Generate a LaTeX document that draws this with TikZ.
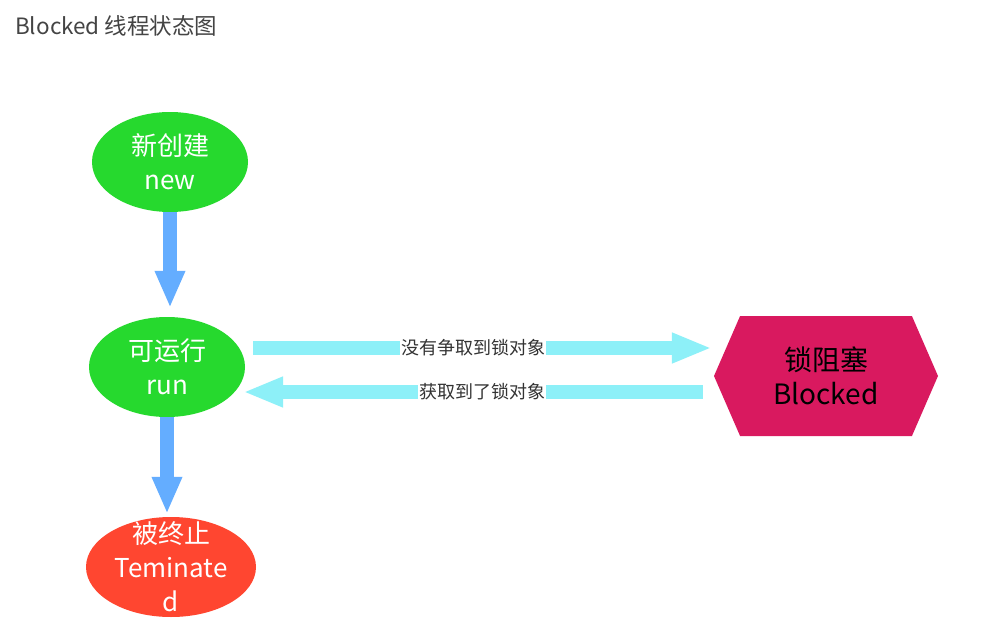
\documentclass[tikz,border=0pt]{standalone}
\usepackage{fontspec}
\setmainfont{Noto Sans CJK SC}
\usetikzlibrary{arrows.meta,shapes.geometric,shapes.symbols,calc}
\definecolor{stgreen}{HTML}{26D92E}
\definecolor{stred}{HTML}{FF4630}
\definecolor{stmag}{HTML}{D9195F}
\definecolor{stblue}{HTML}{64ADFF}
\definecolor{stcyan}{HTML}{8DF0F8}
\definecolor{stgrey}{HTML}{444444}
\definecolor{sttext}{HTML}{333333}
\begin{document}
\begin{tikzpicture}[x=1pt,y=-1pt,
  stateshape/.style={ellipse, inner sep=0pt, minimum width=156pt, minimum height=100pt},
  statetext/.style={text=white, align=center, inner sep=0pt, font=\fontsize{26pt}{34pt}\selectfont},
  varrow/.style={draw=stblue, line width=14pt, -{Triangle[width=28pt,length=37pt]}},
  harrow/.style={draw=stcyan, line width=14pt, -{Triangle[width=28pt,length=40pt]}},
  arrowlabel/.style={fill=white, text=sttext, inner sep=1pt, font=\fontsize{18pt}{20pt}\selectfont}
]
\useasboundingbox (0,0) rectangle (986,640);
\fill[white] (0,0) rectangle (986,640);

\node[anchor=west, inner sep=0pt, text=stgrey, font=\fontsize{22.5pt}{26pt}\selectfont] (title) at (15,26) {Blocked 线程状态图};

\node[stateshape, fill=stgreen] (new) at (170,162) {};
\node[statetext] (newt) at (new.center) {新创建\\new};

\node[stateshape, fill=stgreen] (run) at (167,367) {};
\node[statetext] (runt) at (run.center) {可运行\\run};

\node[stateshape, fill=stred, minimum width=170pt] (term) at (171,567) {};
\node[statetext] (termt) at (term.center) {被终止\\Teminate\\d};

\node[signal, signal to=west and east, signal pointer angle=133, fill=stmag,
      minimum width=224pt, minimum height=120pt, inner sep=0pt,
      text=black, align=center, font=\fontsize{28pt}{34pt}\selectfont] (blk) at (826,376) {锁阻塞\\Blocked};

\draw[varrow, shorten >=9pt] (new.south) -- (new.south |- run.north);
\draw[varrow, shorten >=3pt] (run.south) -- (run.south |- term.north);

\draw[harrow] ($(run.east)+(8,-19)$) -- node[arrowlabel, pos=0.48] (l1) {没有争取到锁对象} ($(blk.west)+(-2,-28)$);
\draw[harrow] ($(blk.west)+(-11,16)$) -- node[arrowlabel, pos=0.48] (l2) {获取到了锁对象} ($(run.east)+(-2,25)$);
\end{tikzpicture}
\end{document}
